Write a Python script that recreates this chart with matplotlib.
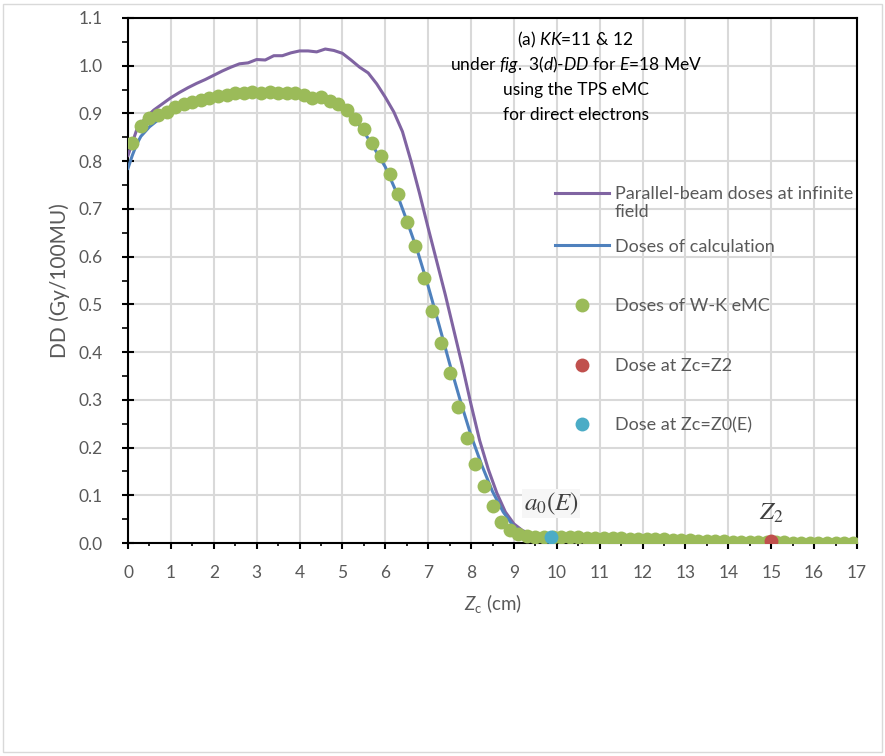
import numpy as np
import matplotlib
matplotlib.use("Agg")
import matplotlib.pyplot as plt
from matplotlib.patches import Rectangle
from matplotlib.ticker import MultipleLocator, FormatStrFormatter
from matplotlib.legend_handler import HandlerLine2D

plt.rcParams['font.family'] = ['Lato', 'DejaVu Sans']
plt.rcParams['mathtext.fontset'] = 'custom'
plt.rcParams['mathtext.rm'] = 'Lato'
plt.rcParams['mathtext.it'] = 'Lato:italic'
plt.rcParams['mathtext.bf'] = 'Lato:bold'

# ---------------- data ----------------
purple_z = [0.0, 0.2, 0.4, 0.6, 0.8, 1.0, 1.2, 1.4, 1.6, 1.8, 2.0, 2.2, 2.4, 2.6, 2.8,
            3.0, 3.2, 3.4, 3.6, 3.8, 4.0, 4.2, 4.4, 4.6, 4.8, 5.0, 5.2, 5.4, 5.6, 5.8,
            6.0, 6.2, 6.4, 6.6, 6.8, 7.0, 7.2, 7.4, 7.6, 7.8, 8.0, 8.2, 8.4, 8.6, 8.8,
            9.0, 9.2, 9.4, 9.6, 10, 11, 12, 13, 14, 15, 16, 17]
purple_dd = [0.812, 0.865, 0.890, 0.907, 0.920, 0.933, 0.944, 0.954, 0.963, 0.971, 0.980,
             0.989, 0.997, 1.004, 1.006, 1.013, 1.012, 1.021, 1.021, 1.027, 1.031,
             1.031, 1.029, 1.035, 1.032, 1.026, 1.012, 0.997, 0.985, 0.962, 0.934,
             0.903, 0.862, 0.800, 0.732, 0.660, 0.590, 0.520, 0.445, 0.370, 0.290,
             0.215, 0.155, 0.105, 0.065, 0.040, 0.026, 0.019, 0.016,
             0.014, 0.012, 0.009, 0.006, 0.004, 0.002, 0.001, 0.001]

blue_z = [0.0, 0.1, 0.2, 0.3, 0.5, 0.75, 1.0, 1.5, 2.0, 2.5, 3.0, 3.5, 4.0, 4.5, 5.0,
          5.25, 5.5, 5.75, 6.0, 6.25, 6.5, 6.75, 7.0, 7.25, 7.5, 7.75, 8.0, 8.25, 8.5,
          8.75, 9.0, 9.25, 9.5, 10, 11, 12, 13, 14, 15, 16, 17]
blue_dd = [0.785, 0.812, 0.835, 0.852, 0.872, 0.890, 0.905, 0.918, 0.928, 0.937,
           0.942, 0.944, 0.942, 0.935, 0.915, 0.893, 0.862, 0.826, 0.788, 0.737,
           0.676, 0.612, 0.538, 0.458, 0.376, 0.298, 0.225, 0.163, 0.108, 0.065,
           0.034, 0.019, 0.014, 0.012, 0.010, 0.008, 0.005, 0.003, 0.002, 0.001, 0.001]

green_z = np.round(np.arange(0.1, 17.0, 0.2), 1)
green_dd = [0.839, 0.874, 0.890, 0.897, 0.904, 0.914, 0.919, 0.925, 0.928, 0.932,
            0.937, 0.939, 0.943, 0.942, 0.946, 0.942, 0.946, 0.942, 0.943, 0.943,
            0.939, 0.932, 0.934, 0.927, 0.920, 0.907, 0.888, 0.867, 0.839, 0.811,
            0.773, 0.731, 0.673, 0.622, 0.556, 0.487, 0.420, 0.356, 0.286, 0.221,
            0.165, 0.119, 0.077, 0.045, 0.027, 0.019,
            0.014, 0.013, 0.013, 0.013, 0.012, 0.012, 0.012, 0.011, 0.011, 0.011,
            0.010, 0.010, 0.009, 0.009, 0.009, 0.008, 0.008, 0.007, 0.006, 0.006,
            0.005, 0.005, 0.004, 0.004, 0.003, 0.003, 0.003, 0.002, 0.002, 0.002,
            0.002, 0.001, 0.001, 0.001, 0.001, 0.001, 0.001, 0.001, 0.001]

z2_z = [15.0]
z2_dd = [0.005]
z0_z = [9.87]
z0_dd = [0.013]

labels = ["Parallel-beam doses at infinite\nfield", "Doses of calculation",
          "Doses of W-K eMC", "Dose at Zc=Z2", "Dose at Zc=Z0(E)"]

title_lines = ["(a) $\\mathit{KK}$=11 & 12",
               "under $\\mathit{fig.}$ $\\mathit{3(d)}$-$\\mathit{DD}$ for $\\mathit{E}$=18 MeV",
               "using the TPS eMC",
               "for direct electrons"]


class TopLineHandler(HandlerLine2D):
    """Place the legend line level with the first text line of a two-line label."""
    def create_artists(self, legend, orig_handle, xdescent, ydescent, width, height,
                       fontsize, trans):
        return super().create_artists(legend, orig_handle, xdescent,
                                      ydescent - 1.1 * fontsize, width, height,
                                      fontsize, trans)


# ---------------- figure ----------------
fig = plt.figure(figsize=(8.85, 7.56), dpi=100)
ax = fig.add_axes([128/885, 1-543/756, (857-128)/885, (543-18)/756])

c_purple = '#8064A2'
c_blue = '#4F81BD'
c_green = '#9BBB59'
c_red = '#C0504D'
c_cyan = '#4BACC6'
grey_txt = '#595959'

l1, = ax.plot(purple_z, purple_dd, color=c_purple, lw=2.2, zorder=3, label=labels[0])
l2, = ax.plot(blue_z, blue_dd, color=c_blue, lw=2.2, zorder=3, label=labels[1])
p3, = ax.plot(green_z, green_dd, 'o', color=c_green, ms=10, mec='none', zorder=4, label=labels[2])
p4, = ax.plot(z2_z, z2_dd, 'o', color=c_red, ms=10, mec='none', zorder=5, label=labels[3])
p5, = ax.plot(z0_z, z0_dd, 'o', color=c_cyan, ms=10, mec='none', zorder=5, label=labels[4])

ax.set_xlim(0, 17)
ax.set_ylim(0, 1.1)
ax.xaxis.set_major_locator(MultipleLocator(1))
ax.xaxis.set_minor_locator(MultipleLocator(0.5))
ax.yaxis.set_major_locator(MultipleLocator(0.1))
ax.yaxis.set_minor_locator(MultipleLocator(0.05))
ax.yaxis.set_major_formatter(FormatStrFormatter('%.1f'))

ax.grid(True, which='major', color='#d9d9d9', lw=1.5, zorder=0)
ax.set_axisbelow(True)
for s in ax.spines.values():
    s.set_color('black')
    s.set_linewidth(1.5)

ax.tick_params(axis='x', which='major', direction='out', length=4.5, width=1.5,
               colors='black', labelcolor=grey_txt, labelsize=12.5, pad=11)
ax.tick_params(axis='x', which='minor', direction='out', length=2.5, width=1.2, colors='black')
ax.tick_params(axis='y', which='major', direction='inout', length=8.5, width=1.5,
               colors='black', labelcolor=grey_txt, labelsize=12.5, pad=14)
ax.tick_params(axis='y', which='minor', direction='out', length=4.5, width=1.2, colors='black')

ax.set_xlabel(r'$\mathit{Z}_\mathrm{c}$ (cm)', color=grey_txt, fontsize=13.5, labelpad=8)
ax.set_ylabel('DD (Gy/100MU)', color=grey_txt, fontsize=15, labelpad=6)

title_y = [0.9486, 0.9010, 0.8533, 0.8057]
for line, yy in zip(title_lines, title_y):
    ax.text(0.614, yy, line, transform=ax.transAxes, ha='center', va='baseline',
            fontsize=12.5, color='black', zorder=6)

ax.text(z0_z[0], z0_dd[0] + 0.069, r'$a_0(E)$', ha='center', va='center',
        fontsize=18, color='#404040', math_fontfamily='stix', zorder=6,
        bbox=dict(facecolor='#f6f6f6', edgecolor='none', pad=1.0))
ax.text(z2_z[0], z2_dd[0] + 0.058, r'$Z_2$', ha='center', va='center',
        fontsize=18, color='#404040', math_fontfamily='stix', zorder=6)

legA = ax.legend(handles=[l1], loc='center left', bbox_to_anchor=(0.5857, 0.6476),
                 frameon=False, fontsize=13, labelcolor=grey_txt, handlelength=3.0,
                 handletextpad=0.3, borderpad=0, borderaxespad=0,
                 handler_map={l1: TopLineHandler()})
legA.set_zorder(6)
ax.add_artist(legA)
legB = ax.legend(handles=[l2, p3, p4, p5], loc='center left', bbox_to_anchor=(0.5857, 0.394),
                 frameon=False, fontsize=13, labelcolor=grey_txt, handlelength=3.0,
                 handletextpad=0.3, labelspacing=2.42, borderpad=0, borderaxespad=0)
legB.set_zorder(6)

fig.patches.append(Rectangle((3/885, 4/756), 879/885, 748/756, transform=fig.transFigure,
                             fill=False, edgecolor='#d9d9d9', lw=1.0))

fig.savefig('out.png', dpi=100)
